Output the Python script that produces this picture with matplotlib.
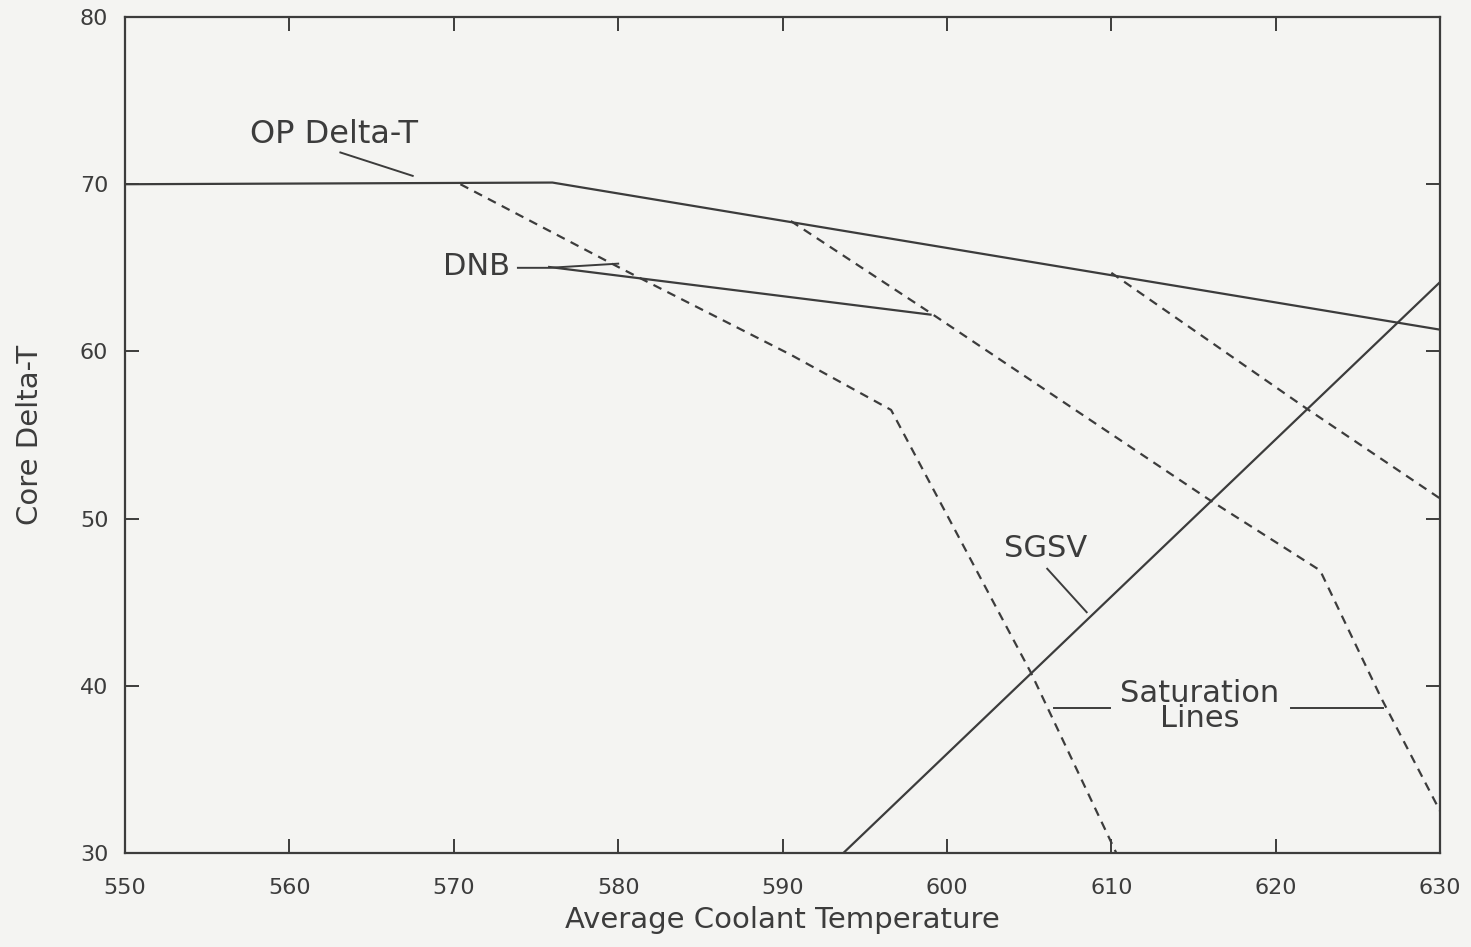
import numpy as np
import matplotlib
matplotlib.use("Agg")
import matplotlib.pyplot as plt

# solid limit lines
op_x = [550, 576, 630]
op_y = [70.0, 70.1, 61.3]
dnb_x = [575.8, 599.0]
dnb_y = [65.05, 62.2]
sgsv_x = [593.7, 630]
sgsv_y = [30.0, 64.15]

# saturation lines (dashed)
sat1_x = [570.4, 580.1, 590.5, 596.6, 605.1, 610.3]
sat1_y = [70.0, 65.0, 59.8, 56.5, 40.8, 30.0]
sat2_x = [590.5, 599.0, 616.0, 622.7, 626.4, 630]
sat2_y = [67.8, 62.3, 51.1, 46.9, 39.3, 32.5]
sat3_x = [610.0, 621.7, 630]
sat3_y = [64.7, 56.7, 51.2]

xticks = [550, 560, 570, 580, 590, 600, 610, 620, 630]
yticks = [30, 40, 50, 60, 70, 80]

col = '#3c3c3c'
bg = '#f4f4f2'

fig = plt.figure(figsize=(14.71, 9.47), dpi=100, facecolor=bg)
ax = fig.add_axes([0.085, 0.0993, 0.894, 0.8827], facecolor=bg)

ax.plot(op_x, op_y, color=col, lw=1.6)
ax.plot(dnb_x, dnb_y, color=col, lw=1.6)
ax.plot(sgsv_x, sgsv_y, color=col, lw=1.6)
for sx, sy in [(sat1_x, sat1_y), (sat2_x, sat2_y), (sat3_x, sat3_y)]:
	ax.plot(sx, sy, color=col, lw=1.6, linestyle=(0, (4, 3)))

# labels and leaders
ax.text(562.7, 73.0, "OP Delta-T", fontsize=23, color=col, ha='center', va='center')
ax.plot([563.1, 567.5], [71.9, 70.5], color=col, lw=1.4)

ax.text(571.4, 65.1, "DNB", fontsize=22, color=col, ha='center', va='center')
ax.plot([573.9, 575.8, 580.0], [65.0, 65.0, 65.25], color=col, lw=1.4)

ax.text(606.0, 48.2, "SGSV", fontsize=22, color=col, ha='center', va='center')
ax.plot([606.1, 608.5], [47.0, 44.4], color=col, lw=1.4)

ax.text(615.4, 38.8, "Saturation\nLines", fontsize=22, color=col, ha='center',
	va='center', linespacing=0.8)
ax.plot([606.5, 609.9], [38.67, 38.67], color=col, lw=1.4)
ax.plot([620.9, 626.5], [38.67, 38.67], color=col, lw=1.4)

ax.set_xlim(550, 630)
ax.set_ylim(30, 80)
ax.set_xticks(xticks)
ax.set_yticks(yticks)
ax.tick_params(direction='in', length=10, width=1.4, colors=col, labelsize=16,
	top=True, right=True)
ax.tick_params(axis='x', pad=18)
ax.tick_params(axis='y', pad=12)
for s in ax.spines.values():
	s.set_color(col)
	s.set_linewidth(1.6)

ax.set_xlabel("Average Coolant Temperature", fontsize=21, color=col, labelpad=6)
ax.set_ylabel("Core Delta-T", fontsize=21, color=col, labelpad=26)

fig.savefig("out.png", dpi=100, facecolor=bg)
